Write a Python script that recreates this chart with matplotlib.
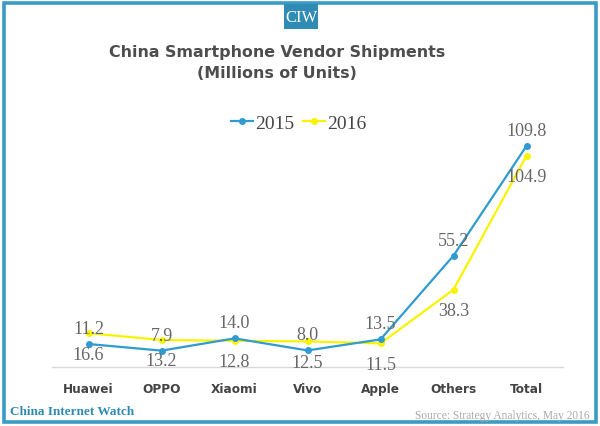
import matplotlib
matplotlib.use("Agg")
import matplotlib.pyplot as plt
from matplotlib.patches import Rectangle
from matplotlib.lines import Line2D

# ── Data ─────────────────────────────────────────────────────────────────────
vendors = ["Huawei", "OPPO", "Xiaomi", "Vivo", "Apple", "Others", "Total"]
ship_2015 = [11.2, 7.9, 14.0, 8.0, 13.5, 55.2, 109.8]
ship_2016 = [16.6, 13.2, 12.8, 12.5, 11.5, 38.3, 104.9]

BLUE = "#2f9bd0"
YELLOW = "#f8f400"
TEAL = "#2f8bb3"
SERIF = ["Liberation Serif", "DejaVu Serif"]

fig = plt.figure(figsize=(6.0, 4.27), dpi=100)
W, H = 600, 427


def fx(px):
    return px / W


def fy(py):
    return 1 - py / H


# frame
fig.patches.append(Rectangle((fx(4), fy(423)), fx(592), 419 / H, transform=fig.transFigure,
                             fill=False, edgecolor="#3a9cc4", linewidth=2.6))
# CIW badge
fig.patches.append(Rectangle((fx(284), fy(30)), fx(34), 25 / H, transform=fig.transFigure,
                             facecolor=TEAL, edgecolor="none"))
fig.text(fx(301), fy(18), "CIW", color="white", family=SERIF, fontsize=12,
         ha="center", va="center")

fig.text(fx(277), fy(52), "China Smartphone Vendor Shipments", ha="center", va="center",
         fontsize=11.4, fontweight="bold", color="#4d4d4d")
fig.text(fx(277), fy(73), "(Millions of Units)", ha="center", va="center",
         fontsize=11.4, fontweight="bold", color="#4d4d4d")

ax = fig.add_axes([fx(52), fy(367.5), fx(511), 241 / H])
x = range(len(vendors))
ax.plot(x, ship_2015, color=BLUE, lw=1.6, marker="o", ms=4, zorder=3)
ax.plot(x, ship_2016, color=YELLOW, lw=1.6, marker="o", ms=4, zorder=2)

for i, (a, b) in enumerate(zip(ship_2015, ship_2016)):
    ax.annotate(f"{a:.1f}", (i, a), xytext=(0, 5), textcoords="offset points",
                ha="center", va="bottom", family=SERIF, fontsize=13, color="#666666")
    ax.annotate(f"{b:.1f}", (i, b), xytext=(0, -9), textcoords="offset points",
                ha="center", va="top", family=SERIF, fontsize=13, color="#666666")

ax.set_xlim(-0.5, len(vendors) - 0.5)
ax.set_ylim(0, 120)
ax.set_xticks(list(x))
ax.set_xticklabels(vendors, fontsize=8.7, fontweight="bold", color="#444444")
ax.tick_params(axis="x", length=0, pad=11)
ax.set_yticks([])
for s in ["top", "right", "left"]:
    ax.spines[s].set_visible(False)
ax.spines["bottom"].set_color("#d9d9d9")
ax.spines["bottom"].set_linewidth(1)

handles = [Line2D([], [], color=BLUE, lw=1.6, marker="o", ms=4),
           Line2D([], [], color=YELLOW, lw=1.6, marker="o", ms=4)]
fig.legend(handles, ["2015", "2016"], loc="center", bbox_to_anchor=(fx(299), fy(124)),
           ncol=2, frameon=False, handlelength=1.1, handletextpad=0.15, columnspacing=0.45,
           prop={"family": SERIF, "size": 14}, labelcolor="#444444")

fig.text(fx(10), fy(412), "China Internet Watch", family=SERIF, fontweight="bold",
         fontsize=9.5, color=TEAL, ha="left", va="center")
fig.text(fx(590), fy(416), "Source: Strategy Analytics, May 2016", family=SERIF,
         fontsize=8.3, color="#aaaaaa", ha="right", va="center")

fig.savefig("out.png", dpi=100)
